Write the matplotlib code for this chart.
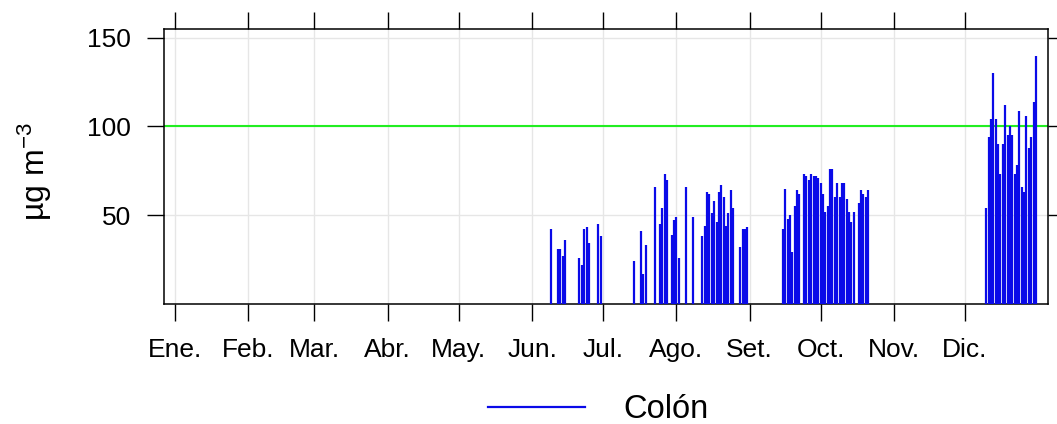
import matplotlib
matplotlib.use("Agg")
import matplotlib.pyplot as plt
import matplotlib.dates as mdates
from matplotlib.lines import Line2D
import pandas as pd

plt.rcParams['font.family'] = ['Liberation Sans', 'DejaVu Sans']
plt.rcParams['mathtext.default'] = 'regular'

# ---- data: runs of consecutive daily values (start date, values) ----
run_starts = ['2013-06-09', '2013-06-12', '2013-06-21', '2013-06-29',
              '2013-07-14', '2013-07-17', '2013-07-23', '2013-07-25',
              '2013-07-30', '2013-08-05', '2013-08-08', '2013-08-12',
              '2013-08-28', '2013-09-15', '2013-09-24', '2013-10-17',
              '2013-12-10']
run_values = [
    [42],
    [31, 31, 27, 36],
    [26, 22, 42, 43, 34],
    [45, 38],
    [24],
    [41, 17, 33],
    [66],
    [45, 54, 73, 70],
    [39, 47, 49, 26],
    [66],
    [49],
    [38, 44, 63, 62, 51, 58, 46, 63, 67, 60, 44, 51, 64, 54],
    [32, 42, 42, 43],
    [42, 65, 48, 50, 29, 55, 64, 62],
    [73, 72, 70, 73, 72, 72, 71, 68, 62, 52, 55, 76, 76, 60, 68, 60, 68, 68,
     59, 52, 46, 52],
    [57, 64, 62, 60, 64],
    [54, 94, 104, 130, 104, 90, 73, 90, 112, 95, 100, 95, 73, 78, 109, 66, 63,
     106, 88, 94, 114, 140],
]
month_labels = ['Ene.', 'Feb.', 'Mar.', 'Abr.', 'May.', 'Jun.', 'Jul.',
                'Ago.', 'Set.', 'Oct.', 'Nov.', 'Dic.']
y_ticks = [50, 100, 150]
threshold = 100
series_name = 'Colón'
y_label = 'µg m$^{-3}$'

dates, values = [], []
for start, vals in zip(run_starts, run_values):
    rng = pd.date_range(start, periods=len(vals), freq='D')
    dates.extend(rng.to_pydatetime())
    values.extend(vals)

W, H = 1057, 424
fig = plt.figure(figsize=(W / 100, H / 100), dpi=100)
ax = fig.add_axes([164.3 / W, 1 - 303.7 / H, (1047.5 - 164.3) / W, (303.7 - 29) / H])

blue = '#0A0AE8'
ax.vlines(dates, 0, values, color=blue, lw=1.6, zorder=3)
ax.axhline(threshold, color='#22EE22', lw=1.5, zorder=2)

month_pos = pd.date_range('2013-01-01', periods=12, freq='MS').to_pydatetime()
ax.set_xticks(mdates.date2num(month_pos))
ax.set_xticklabels(month_labels)
ax.set_xlim(mdates.date2num(pd.Timestamp('2013-01-01')) - 4.5,
            mdates.date2num(pd.Timestamp('2013-01-01')) + 368.9)
ax.set_ylim(0, 155)
ax.set_yticks(y_ticks)
ax.set_yticklabels([str(v) for v in y_ticks])

ax.grid(True, color='#E6E6E6', lw=1.0, zorder=0)
ax.set_axisbelow(True)
for s in ax.spines.values():
    s.set_linewidth(1.1)
    s.set_color('black')
ax.tick_params(direction='out', length=12, width=1.0, top=True, right=True,
               labeltop=False, labelright=False)
ax.tick_params(axis='x', labelsize=19, pad=12.5)
ax.tick_params(axis='y', labelsize=19, pad=12)

fig.text(35 / W, 1 - 172 / H, y_label, rotation=90, ha='center', va='center',
         fontsize=23)

fig.add_artist(Line2D([488 / W, 585 / W], [1 - 407 / H] * 2, color=blue, lw=1.6))
fig.text(623 / W, 1 - 410 / H, series_name, ha='left', va='center',
         fontsize=23.5)

fig.savefig('out.png', dpi=100)
